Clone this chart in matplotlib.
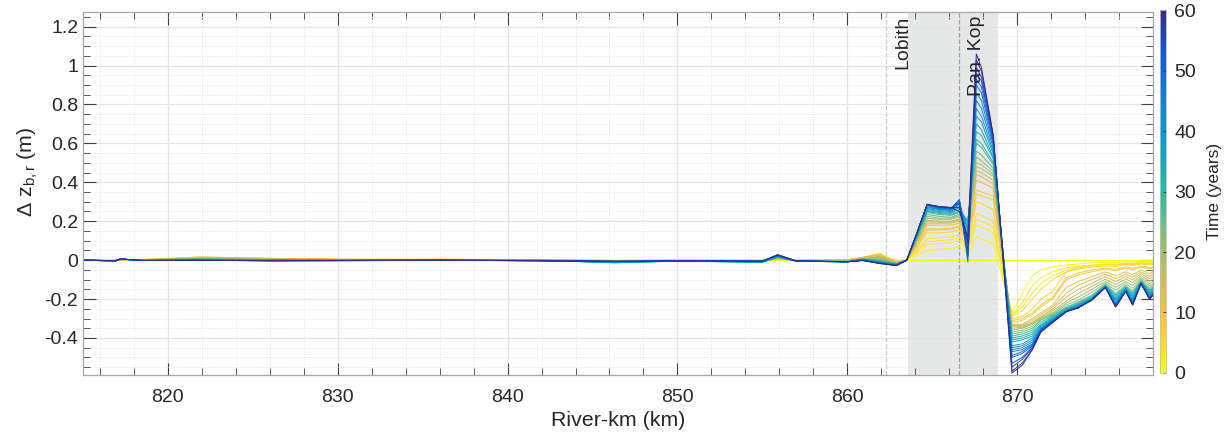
import matplotlib
matplotlib.use("Agg")
import matplotlib.pyplot as plt
from matplotlib.colors import LinearSegmentedColormap, Normalize
from matplotlib.cm import ScalarMappable
from matplotlib.ticker import MultipleLocator, FuncFormatter

plt.rcParams['font.family'] = ['Liberation Sans', 'DejaVu Sans']
plt.rcParams['mathtext.fontset'] = 'custom'
plt.rcParams['mathtext.rm'] = 'Liberation Sans'
plt.rcParams['mathtext.it'] = 'Liberation Sans:italic'

# Rivierkilometers (km) van de knooppunten
km_upstream = [815.0, 816.9, 817.2, 818.5, 821.9, 826.0, 830.0, 836.0, 842.0,
               846.3, 850.0, 855.0, 855.9, 857.0, 860.0, 860.9, 861.9, 862.9]
km_lobith = [863.5, 864.0, 864.7, 865.4, 866.1, 866.6, 867.1, 867.6, 867.9,
             868.6, 869.7, 870.3, 870.9, 871.4, 872.1, 872.9, 873.6, 874.4,
             875.2, 875.8, 876.4, 876.8, 877.3, 877.8, 878.0]

# Tijdstippen (jaren)
years = [0, 1, 2, 3, 4, 6, 8, 9, 12, 14, 16, 18, 20, 22, 25, 28, 30, 33, 35,
         38, 40, 43, 45, 48, 50, 53, 55, 58, 60]

# Bodemligging verandering (m), bovenstrooms deel
dz_upstream = [
    [0, 0, 0, 0, 0, 0, 0, 0, 0, 0, 0, 0, 0, 0, 0, 0, 0, 0],
    [0, 0, 0, 0.002, 0.006, 0.003, 0.001, 0.001, 0, 0, 0, 0, 0.002, 0, 0, 0.004, 0.012, 0],
    [0, 0, 0.001, 0.002, 0.010, 0.005, 0.002, 0.002, 0.001, -0.001, 0, 0, 0.003, 0, 0.001, 0.008, 0.022, -0.002],
    [0, -0.001, 0.001, 0.003, 0.012, 0.007, 0.003, 0.003, 0.002, -0.002, 0, -0.001, 0.004, 0, 0.002, 0.010, 0.027, -0.004],
    [0, -0.001, 0.001, 0.003, 0.014, 0.008, 0.003, 0.003, 0.002, -0.002, 0, -0.001, 0.004, 0, 0.002, 0.012, 0.030, -0.005],
    [0, -0.001, 0.002, 0.003, 0.016, 0.009, 0.004, 0.004, 0.002, -0.003, 0, -0.002, 0.005, -0.001, 0.002, 0.014, 0.034, -0.008],
    [0, -0.002, 0.002, 0.003, 0.016, 0.009, 0.004, 0.004, 0.003, -0.004, -0.001, -0.003, 0.006, -0.002, 0.001, 0.014, 0.032, -0.009],
    [0, -0.002, 0.002, 0.002, 0.015, 0.009, 0.004, 0.004, 0.003, -0.004, -0.001, -0.003, 0.006, -0.002, 0.001, 0.014, 0.030, -0.010],
    [0, -0.002, 0.003, 0.002, 0.013, 0.008, 0.004, 0.003, 0.003, -0.006, -0.002, -0.004, 0.008, -0.002, 0, 0.012, 0.025, -0.012],
    [0, -0.003, 0.003, 0.002, 0.012, 0.007, 0.004, 0.003, 0.002, -0.007, -0.003, -0.005, 0.009, -0.003, -0.001, 0.011, 0.021, -0.013],
    [0, -0.003, 0.003, 0.001, 0.011, 0.006, 0.003, 0.003, 0.002, -0.008, -0.003, -0.006, 0.010, -0.003, -0.002, 0.010, 0.018, -0.014],
    [0, -0.003, 0.004, 0.001, 0.010, 0.005, 0.003, 0.002, 0.001, -0.009, -0.004, -0.007, 0.011, -0.003, -0.003, 0.009, 0.014, -0.015],
    [0, -0.003, 0.004, 0.001, 0.008, 0.004, 0.002, 0.002, 0.001, -0.010, -0.004, -0.008, 0.012, -0.003, -0.004, 0.008, 0.010, -0.016],
    [0, -0.004, 0.004, 0.001, 0.007, 0.003, 0.002, 0.002, 0.001, -0.011, -0.004, -0.009, 0.013, -0.004, -0.005, 0.007, 0.006, -0.017],
    [0, -0.004, 0.004, 0, 0.006, 0.002, 0.001, 0.002, 0, -0.012, -0.004, -0.010, 0.014, -0.004, -0.006, 0.006, 0.002, -0.018],
    [0, -0.004, 0.005, 0, 0.005, 0.002, 0.001, 0.001, -0.001, -0.013, -0.005, -0.010, 0.015, -0.004, -0.007, 0.005, -0.002, -0.019],
    [0, -0.005, 0.005, 0, 0.004, 0.001, 0, 0.001, -0.001, -0.014, -0.005, -0.011, 0.016, -0.004, -0.008, 0.004, -0.004, -0.020],
    [0, -0.005, 0.005, -0.001, 0.003, 0.001, 0, 0.001, -0.001, -0.013, -0.005, -0.011, 0.017, -0.005, -0.009, 0.004, -0.006, -0.021],
    [0, -0.005, 0.005, -0.001, 0.002, 0, -0.001, 0.001, -0.002, -0.012, -0.005, -0.010, 0.018, -0.005, -0.009, 0.003, -0.008, -0.022],
    [0, -0.005, 0.005, -0.001, 0.002, 0, -0.001, 0, -0.002, -0.011, -0.005, -0.009, 0.019, -0.005, -0.009, 0.002, -0.010, -0.023],
    [0, -0.004, 0.005, -0.001, 0.001, -0.001, -0.001, 0, -0.002, -0.010, -0.005, -0.008, 0.020, -0.005, -0.009, 0.002, -0.011, -0.024],
    [0, -0.004, 0.006, -0.002, 0.001, -0.002, -0.002, 0, -0.003, -0.009, -0.005, -0.008, 0.021, -0.005, -0.009, 0.001, -0.012, -0.025],
    [0, -0.004, 0.006, -0.002, 0, -0.002, -0.002, 0, -0.003, -0.008, -0.005, -0.007, 0.022, -0.005, -0.009, 0.001, -0.013, -0.025],
    [0, -0.003, 0.006, -0.002, 0, -0.003, -0.002, 0, -0.003, -0.007, -0.005, -0.006, 0.023, -0.005, -0.008, 0, -0.014, -0.026],
    [0, -0.003, 0.006, -0.002, 0, -0.003, -0.002, 0, -0.003, -0.007, -0.005, -0.006, 0.024, -0.005, -0.008, 0, -0.015, -0.026],
    [0, -0.003, 0.006, -0.002, -0.001, -0.003, -0.002, -0.001, -0.003, -0.006, -0.004, -0.005, 0.025, -0.004, -0.008, -0.001, -0.015, -0.027],
    [0, -0.003, 0.006, -0.002, -0.001, -0.003, -0.002, -0.001, -0.003, -0.006, -0.004, -0.005, 0.026, -0.004, -0.008, -0.001, -0.016, -0.027],
    [0, -0.003, 0.006, -0.002, -0.001, -0.003, -0.003, -0.001, -0.003, -0.006, -0.004, -0.005, 0.027, -0.004, -0.008, -0.002, -0.017, -0.028],
    [0, -0.003, 0.006, -0.002, -0.001, -0.003, -0.003, -0.001, -0.003, -0.006, -0.004, -0.005, 0.028, -0.004, -0.008, -0.002, -0.017, -0.028],
]

# Bodemligging verandering (m), Lobith - Pannerdensche Kop en benedenstrooms
dz_lobith = [
    [0, 0, 0, 0, 0, 0, 0, 0, 0, 0, 0, 0, 0, 0, 0, 0, 0, 0, 0, 0, 0, 0, 0, 0, 0],
    [0, 0.02, 0.05, 0.055, 0.06, 0.07, 0.03, 0.12, 0.11, 0.08, -0.27, -0.17, -0.08, -0.05, -0.035, -0.025, -0.02, -0.015, -0.01, -0.012, -0.008, -0.01, -0.006, -0.008, -0.007],
    [0, 0.03, 0.08, 0.085, 0.09, 0.10, 0.05, 0.18, 0.17, 0.14, -0.28, -0.22, -0.13, -0.09, -0.06, -0.04, -0.03, -0.025, -0.018, -0.02, -0.014, -0.017, -0.011, -0.014, -0.012],
    [0, 0.038, 0.095, 0.10, 0.105, 0.115, 0.06, 0.21, 0.20, 0.17, -0.285, -0.24, -0.17, -0.12, -0.08, -0.05, -0.035, -0.028, -0.02, -0.023, -0.016, -0.02, -0.013, -0.017, -0.015],
    [0, 0.045, 0.11, 0.115, 0.12, 0.13, 0.07, 0.24, 0.23, 0.20, -0.29, -0.26, -0.20, -0.15, -0.10, -0.06, -0.04, -0.03, -0.022, -0.026, -0.018, -0.022, -0.015, -0.019, -0.017],
    [0, 0.055, 0.14, 0.14, 0.145, 0.155, 0.09, 0.30, 0.29, 0.26, -0.30, -0.29, -0.25, -0.20, -0.16, -0.06, -0.045, -0.035, -0.03, -0.033, -0.022, -0.027, -0.02, -0.024, -0.022],
    [0, 0.062, 0.155, 0.155, 0.16, 0.17, 0.10, 0.34, 0.33, 0.31, -0.31, -0.30, -0.27, -0.23, -0.19, -0.09, -0.065, -0.05, -0.04, -0.048, -0.034, -0.042, -0.03, -0.038, -0.034],
    [0, 0.065, 0.16, 0.16, 0.165, 0.175, 0.11, 0.36, 0.35, 0.33, -0.32, -0.31, -0.28, -0.24, -0.20, -0.10, -0.075, -0.06, -0.045, -0.055, -0.04, -0.05, -0.035, -0.045, -0.04],
    [0, 0.072, 0.18, 0.18, 0.18, 0.19, 0.13, 0.41, 0.40, 0.37, -0.33, -0.33, -0.30, -0.27, -0.23, -0.14, -0.11, -0.085, -0.06, -0.08, -0.06, -0.075, -0.05, -0.07, -0.06],
    [0, 0.076, 0.19, 0.19, 0.19, 0.20, 0.14, 0.44, 0.43, 0.39, -0.335, -0.335, -0.31, -0.28, -0.24, -0.17, -0.13, -0.10, -0.072, -0.095, -0.072, -0.088, -0.06, -0.083, -0.072],
    [0, 0.08, 0.20, 0.195, 0.195, 0.205, 0.15, 0.46, 0.45, 0.41, -0.34, -0.34, -0.32, -0.29, -0.25, -0.19, -0.15, -0.12, -0.085, -0.11, -0.085, -0.10, -0.07, -0.095, -0.085],
    [0, 0.083, 0.205, 0.20, 0.20, 0.21, 0.16, 0.48, 0.47, 0.43, -0.35, -0.345, -0.325, -0.295, -0.26, -0.21, -0.17, -0.135, -0.098, -0.125, -0.098, -0.115, -0.08, -0.108, -0.098],
    [0, 0.086, 0.215, 0.21, 0.21, 0.22, 0.17, 0.50, 0.49, 0.44, -0.36, -0.35, -0.33, -0.30, -0.27, -0.22, -0.19, -0.15, -0.11, -0.14, -0.11, -0.13, -0.09, -0.12, -0.11],
    [0, 0.09, 0.225, 0.215, 0.215, 0.228, 0.18, 0.53, 0.51, 0.455, -0.37, -0.36, -0.34, -0.305, -0.275, -0.23, -0.205, -0.165, -0.118, -0.155, -0.12, -0.145, -0.098, -0.132, -0.12],
    [0, 0.094, 0.235, 0.225, 0.22, 0.235, 0.19, 0.56, 0.54, 0.47, -0.38, -0.37, -0.35, -0.31, -0.28, -0.24, -0.215, -0.18, -0.125, -0.17, -0.13, -0.16, -0.105, -0.145, -0.13],
    [0, 0.098, 0.245, 0.235, 0.23, 0.245, 0.20, 0.60, 0.58, 0.49, -0.39, -0.38, -0.36, -0.32, -0.285, -0.245, -0.22, -0.185, -0.128, -0.178, -0.136, -0.168, -0.108, -0.153, -0.138],
    [0, 0.10, 0.25, 0.24, 0.235, 0.25, 0.20, 0.62, 0.60, 0.50, -0.40, -0.39, -0.37, -0.33, -0.29, -0.25, -0.225, -0.19, -0.13, -0.185, -0.14, -0.175, -0.11, -0.16, -0.145],
    [0, 0.102, 0.255, 0.245, 0.24, 0.26, 0.20, 0.66, 0.64, 0.52, -0.41, -0.40, -0.38, -0.335, -0.295, -0.252, -0.228, -0.193, -0.133, -0.193, -0.143, -0.183, -0.113, -0.165, -0.15],
    [0, 0.104, 0.26, 0.25, 0.245, 0.27, 0.19, 0.70, 0.67, 0.53, -0.42, -0.41, -0.39, -0.34, -0.30, -0.255, -0.23, -0.195, -0.135, -0.20, -0.145, -0.19, -0.115, -0.17, -0.155],
    [0, 0.106, 0.265, 0.255, 0.25, 0.28, 0.17, 0.74, 0.71, 0.545, -0.44, -0.43, -0.40, -0.345, -0.303, -0.258, -0.233, -0.198, -0.136, -0.205, -0.148, -0.198, -0.115, -0.175, -0.16],
    [0, 0.108, 0.27, 0.26, 0.255, 0.29, 0.15, 0.78, 0.74, 0.56, -0.45, -0.44, -0.41, -0.35, -0.305, -0.26, -0.235, -0.20, -0.137, -0.21, -0.15, -0.205, -0.115, -0.18, -0.165],
    [0, 0.11, 0.275, 0.262, 0.258, 0.30, 0.11, 0.82, 0.78, 0.575, -0.46, -0.45, -0.42, -0.352, -0.308, -0.261, -0.238, -0.202, -0.138, -0.218, -0.153, -0.21, -0.117, -0.186, -0.168],
    [0, 0.112, 0.28, 0.265, 0.26, 0.31, 0.08, 0.86, 0.82, 0.59, -0.47, -0.46, -0.43, -0.355, -0.31, -0.262, -0.24, -0.203, -0.138, -0.225, -0.155, -0.215, -0.118, -0.19, -0.17],
    [0, 0.113, 0.283, 0.268, 0.263, 0.31, 0.02, 0.90, 0.86, 0.60, -0.49, -0.47, -0.435, -0.358, -0.313, -0.263, -0.241, -0.204, -0.139, -0.23, -0.157, -0.222, -0.119, -0.195, -0.173],
    [0, 0.114, 0.285, 0.27, 0.265, 0.31, -0.01, 0.93, 0.89, 0.61, -0.50, -0.48, -0.44, -0.36, -0.315, -0.263, -0.242, -0.205, -0.14, -0.235, -0.158, -0.225, -0.12, -0.197, -0.175],
    [0, 0.115, 0.285, 0.273, 0.268, 0.30, 0.02, 0.96, 0.92, 0.62, -0.53, -0.50, -0.447, -0.363, -0.317, -0.264, -0.243, -0.205, -0.14, -0.238, -0.159, -0.228, -0.12, -0.199, -0.177],
    [0, 0.115, 0.285, 0.275, 0.27, 0.29, 0.05, 0.99, 0.94, 0.63, -0.55, -0.51, -0.45, -0.365, -0.318, -0.265, -0.244, -0.205, -0.14, -0.24, -0.16, -0.23, -0.12, -0.20, -0.178],
    [0, 0.115, 0.286, 0.275, 0.27, 0.27, 0.09, 1.03, 0.97, 0.635, -0.57, -0.53, -0.457, -0.368, -0.319, -0.265, -0.245, -0.205, -0.14, -0.24, -0.16, -0.23, -0.12, -0.20, -0.18],
    [0, 0.115, 0.287, 0.275, 0.27, 0.25, 0.12, 1.06, 0.99, 0.64, -0.58, -0.54, -0.46, -0.37, -0.32, -0.265, -0.245, -0.205, -0.14, -0.24, -0.16, -0.23, -0.12, -0.20, -0.18],
]

# Locaties
lobith_km = 862.3
pankop_km = 866.6
zone_km = (863.6, 868.9)

# parula, omgekeerd (geel = begin, donkerblauw = eind)
parula = ['#352a87', '#0f5cdd', '#1481d6', '#06a4ca', '#2eb7a4',
          '#87bf77', '#d1bb59', '#fec832', '#f9fb0e']
cmap = LinearSegmentedColormap.from_list('parula_r', parula[::-1])
norm = Normalize(vmin=0, vmax=60)

fig = plt.figure(figsize=(12.28, 4.37), dpi=100)
ax = fig.add_axes([0.0676, 0.142, 0.8713, 0.8305])

ax.axvspan(zone_km[0], zone_km[1], color='#e6e7e7', zorder=0.2, lw=0)
ax.axvline(lobith_km, color='#c8c8c8', ls='--', lw=0.9, zorder=0.6)
ax.axvline(pankop_km, color='#a0a0a0', ls='--', lw=0.9, zorder=0.6)

x = km_upstream + km_lobith
for t, up, lo in zip(years, dz_upstream, dz_lobith):
    ax.plot(x, up + lo, color=cmap(norm(t)), lw=0.7, zorder=2)

ax.text(lobith_km + 1.0, 1.258, 'Lobith', rotation=90, ha='center', va='top',
        fontsize=14, color='#262626', zorder=3)
ax.text(pankop_km + 1.0, 1.258, 'Pan. Kop', rotation=90, ha='center', va='top',
        fontsize=14, color='#262626', zorder=3)

ax.set_xlim(815, 878)
ax.set_ylim(-0.59, 1.275)
ax.xaxis.set_major_locator(MultipleLocator(10))
ax.xaxis.set_minor_locator(MultipleLocator(2))
ax.yaxis.set_major_locator(MultipleLocator(0.2))
ax.yaxis.set_minor_locator(MultipleLocator(0.05))
ax.yaxis.set_major_formatter(FuncFormatter(lambda v, p: '%g' % round(v, 2)))
ax.set_axisbelow(True)
ax.grid(which='major', color='#e3e3e3', lw=0.9, ls='-')
ax.grid(which='minor', color='#e3e3e3', lw=0.7, ls=':')
ax.tick_params(which='both', direction='in', top=True, right=True,
               color='#404040', labelcolor='#262626', labelsize=14)
ax.tick_params(which='major', length=9, width=0.8)
ax.tick_params(which='minor', length=5, width=0.6)
ax.tick_params(axis='x', pad=10)
for s in ax.spines.values():
    s.set_color('#a6a6a6')
    s.set_linewidth(0.9)

ax.set_xlabel('River-km (km)', fontsize=15.4, color='#262626', labelpad=4)
ax.set_ylabel(r'Δ z$_{\mathrm{b,r}}$ (m)', fontsize=15.4, color='#262626')
ax.yaxis.set_label_coords(-0.04, 0.56)

cax = fig.add_axes([0.9446, 0.1465, 0.0049, 0.8305])
sm = ScalarMappable(norm=norm, cmap=cmap)
cb = fig.colorbar(sm, cax=cax, ticks=range(0, 61, 10))
cb.outline.set_edgecolor('#c0c0c0')
cb.outline.set_linewidth(0.6)
cax.tick_params(direction='in', length=2, color='#404040', labelsize=14,
                labelcolor='#262626', pad=6)
cb.set_label('Time (years)', fontsize=12.5, color='#262626', labelpad=8)

fig.savefig('out.png', dpi=100)
